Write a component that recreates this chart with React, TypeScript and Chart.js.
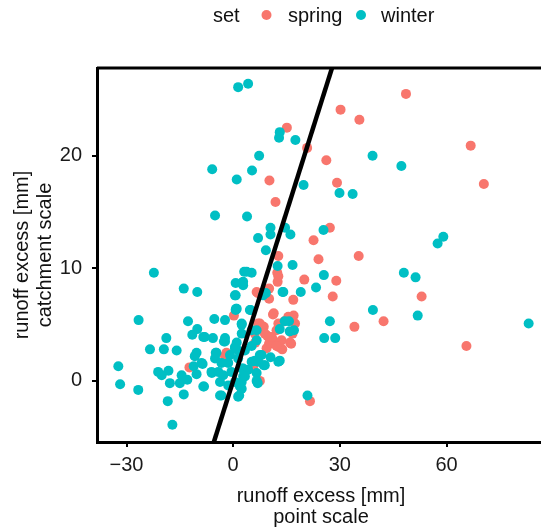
import React, { useEffect, useRef } from "react";
import { Chart, registerables } from "chart.js";

Chart.register(...registerables);

const springX = [30.2, 35.5, 15.1, 20.8, 26.2, 10.2, 29.2, 11.9, 27.2, 22.6, 12.7, 24.0, 35.3, 48.6, 66.8, 70.5, 53.0, 42.3, 65.6,
  12.4, 20.0, 29.0, 12.5, 10.1, 6.6, 28.0, 10.1, 16.9, 11.4, 17.0, 0.2, 14.4, 17.4, 34.1, 7.0, 8.6, 12.2, 16.7, 9.6, 11.1, 13.6, 10.1, 12.9, 13.8, 16.3, 9.4, 5.6, 7.5, 21.6, -2.3, -12.3,
  6.2, 10.3, 12.2, 16.0, 12.7, 7.0, 11.2, 15.5, 7.5, 12.7, 6.1, 8.9, 10.8, -1.9, 7.0];
const springY = [24.1, 23.2, 22.5, 20.7, 19.6, 17.8, 17.6, 15.9, 13.6, 12.5, 11.1, 10.8, 11.1, 25.5, 20.9, 17.5, 7.5, 5.3, 3.1,
  9.6, 9.0, 8.9, 8.8, 8.2, 7.9, 7.5, 7.3, 7.2, 6.0, 5.8, 5.8, 5.3, 5.1, 4.8, 5.1, 4.8, 4.5, 4.2, 4.0, 3.7, 3.6, 3.3, 3.0, 2.8, 3.3, 2.9, 1.25, 0.0, -1.8, 2.2, 1.2,
  3.4, 3.4, 3.1, 3.4, 9.3, 7.8, 5.9, 5.7, 5.1, 5.1, 4.2, 4.2, 3.9, 2.5, 1.8];

const winterX = [1.4, 4.2, -5.9, 1.0, -5.1, 13.1, 12.9, 17.5, 39.2, 7.3, 5.3, 19.8, 29.9, 33.6, 47.3, 3.9, 10.5, 14.6, 16.1, 10.5, 7.0, 25.4, 9.2, 59.1, 57.5, 48.0, 51.3, 39.3, 51.9, 83.1,
  16.7, 12.5, 3.8, 5.2, 25.5, 2.8, 2.8, 23.3, 13.9, 19.0, 9.2, 0.5, 0.8, 4.9, 27.2, 15.7, 2.4, 13.1, 17.1, 6.6, 25.6, 28.7, 5.2, 3.3, 7.5, 6.1, 10.5, 13.1, 8.6, 2.8, 6.6, 2.8, 6.9, 2.4, 1.9, 1.7, 20.9, 0.5, 1.4, 6.6,
  -22.3, -13.9, -10.1, 0.7, 0.7, 0.7, -26.6, -12.7, -5.3, -2.3, -10.1, -11.5, -8.4, -5.7, -18.8, -2.6, -23.4, -19.5, -15.9, -4.9, -10.8, -8.6, -11.1, -32.3, -21.1, -18.2, -20.1, -14.5, -10.3, -6.0, -17.8, -15.0, -12.9, -31.8, -26.7, -8.2, -13.9, -3.7, -18.4, -17.1, -5.1,
  2.4, -8.0, -10.3, -8.9, -6.1, -8.4, -4.7, -2.3, 1.0, -3.3, -1.4, -2.8, -0.5, -3.7, -1.4, 0.5, 1.4, 2.4, -3.3, 1.4, 2.4, -0.9, -4.2, 0.5, 8.0, 7.0, 8.9, 12.7, 5.2, 4.2, 3.3, 6.6, 8.4, 14.1, 4.7, 14.5, 5.2, 15.9, 2.4, 3.1, 1.0, 2.4, -2.3];
const winterY = [26.1, 26.4, 18.8, 17.9, 14.7, 22.1, 21.6, 21.4, 20.0, 20.0, 18.7, 17.4, 16.7, 16.6, 19.1, 14.6, 13.6, 13.6, 13.0, 13.0, 12.7, 13.4, 11.6, 12.8, 12.2, 9.6, 9.2, 6.3, 5.8, 5.1,
  10.3, 10.2, 9.7, 9.6, 9.4, 8.8, 8.5, 8.3, 7.9, 7.9, 7.8, 7.6, 6.4, 6.3, 5.3, 5.3, 5.0, 4.6, 4.5, 4.5, 3.8, 3.8, 3.1, 2.7, 2.3, 1.8, 2.1, 1.8, 1.4, 1.1, 0.7, 0.4, -0.2, -0.1, -0.5, -1.3, -1.3, 3.0, 2.7, 3.6,
  9.6, 8.2, 7.9, 8.7, 7.6, 6.3, 5.4, 5.3, 5.5, 5.4, 4.6, 4.1, 3.9, 3.8, 3.8, 3.5, 2.8, 2.8, 2.7, 2.5, 2.2, 1.5, 1.3, 1.3, 0.8, 0.9, 0.5, 0.5, 0.6, 0.7, -0.2, -0.2, 0.1, -0.3, -0.8, -0.5, -1.2, -1.3, -1.8, -3.9, 2.0,
  4.2, 3.9, 2.5, 1.6, 0.8, -0.5, 2.5, 3.5, 3.4, 1.6, 1.6, 0.5, 0.8, -0.1, -0.4, -0.1, 2.0, 1.1, -1.3, -1.4, -0.7, 2.3, 0.8, 2.9, 2.3, 1.7, 1.4, 1.7, 1.7, 1.0, 0.4, 0.0, 7.6, 7.9, 6.3, 5.3, 4.5, 4.4, 8.7, 9.7, 6.4, 5.1, 3.8];

const refLineX = [-10, 35];
const xTicks = [-30, 0, 30, 60];
const yTicks = [0, 10, 20];
const xRange = [-38.3, 87.7];
const yRange = [-5.43, 27.8];
const seriesNames = ["spring", "winter"];
const seriesColors = ["#F8766D", "#00BFC4"];

const FONT = '"Liberation Sans", Arial, Helvetica, sans-serif';
const FS = 20;
const CANVAS_W = 550;

const framePlugin = {
  id: "frame",
  afterDraw(chart: any) {
    const { ctx, chartArea } = chart;
    ctx.save();
    ctx.strokeStyle = "#000";
    ctx.lineWidth = 3;
    ctx.beginPath();
    ctx.moveTo(chartArea.left, chartArea.top);
    ctx.lineTo(chartArea.right + 10, chartArea.top);
    ctx.stroke();
    // legend
    ctx.font = `${FS}px ${FONT}`;
    ctx.textBaseline = "middle";
    ctx.fillStyle = "#111";
    ctx.textAlign = "left";
    ctx.fillText("set", 213, 16);
    const items = [
      { dot: 266.5, text: 288 },
      { dot: 361, text: 381 },
    ];
    items.forEach((it, i) => {
      ctx.fillStyle = seriesColors[i];
      ctx.beginPath();
      ctx.arc(it.dot, 15, 5, 0, Math.PI * 2);
      ctx.fill();
      ctx.fillStyle = "#111";
      ctx.fillText(seriesNames[i], it.text, 16);
    });
    ctx.restore();
  },
};

export default function App() {
  const ref = useRef<HTMLCanvasElement>(null);
  useEffect(() => {
    if (!ref.current) return;
    const spring = springX.map((x, i) => ({ x, y: springY[i] }));
    const winter = winterX.map((x, i) => ({ x, y: winterY[i] }));
    const chart = new Chart(ref.current, {
      type: "scatter",
      data: {
        datasets: [
          {
            type: "line",
            label: "1:1",
            data: refLineX.map((x) => ({ x, y: x })),
            borderColor: "#000",
            borderWidth: 4.5,
            pointRadius: 0,
            fill: false,
            order: 0,
          } as any,
          {
            label: seriesNames[0],
            data: spring,
            backgroundColor: seriesColors[0],
            borderWidth: 0,
            pointRadius: 5,
            order: 2,
          },
          {
            label: seriesNames[1],
            data: winter,
            backgroundColor: seriesColors[1],
            borderWidth: 0,
            pointRadius: 5,
            order: 1,
          },
        ],
      },
      options: {
        animation: false,
        responsive: false,
        maintainAspectRatio: false,
        layout: { padding: { top: 68, left: 0, right: 0, bottom: 0 } },
        plugins: { legend: { display: false }, tooltip: { enabled: false } },
        scales: {
          x: {
            type: "linear",
            min: xRange[0],
            max: xRange[1],
            afterBuildTicks: (s: any) => {
              s.ticks = xTicks.map((v) => ({ value: v }));
            },
            afterFit: (s: any) => {
              s.height = 86;
            },
            grid: { drawOnChartArea: false, drawTicks: true, tickLength: 5, color: "#000", lineWidth: 2 },
            border: { display: true, color: "#000", width: 3 },
            ticks: {
              padding: 6,
              color: "#1a1a1a",
              font: { family: FONT, size: FS },
              callback: (v: any) => (v < 0 ? "\u2212" + Math.abs(v) : String(v)),
            },
            title: {
              display: true,
              text: ["runoff excess [mm]", "point scale"],
              color: "#111",
              font: { family: FONT, size: FS, lineHeight: "21px" },
              padding: { top: 0, bottom: 0.5 },
            },
          },
          y: {
            type: "linear",
            min: yRange[0],
            max: yRange[1],
            afterBuildTicks: (s: any) => {
              s.ticks = yTicks.map((v) => ({ value: v }));
            },
            afterFit: (s: any) => {
              s.width = 97;
            },
            grid: { drawOnChartArea: false, drawTicks: true, tickLength: 5, color: "#000", lineWidth: 2 },
            border: { display: true, color: "#000", width: 3 },
            ticks: {
              padding: 10,
              color: "#1a1a1a",
              font: { family: FONT, size: FS },
            },
            title: {
              display: true,
              text: ["runoff excess [mm]", "catchment scale"],
              color: "#111",
              font: { family: FONT, size: FS, lineHeight: "23px" },
              padding: { top: 10.5, bottom: 0 },
            },
          },
        },
      },
      plugins: [framePlugin],
    });
    return () => chart.destroy();
  }, []);
  return (
    <div style={{ position: "fixed", left: 0, top: 0, width: 541, height: 528, background: "#fff", overflow: "hidden" }}>
      <canvas ref={ref} width={CANVAS_W} height={528} style={{ width: CANVAS_W, height: 528, display: "block" }} />
    </div>
  );
}
